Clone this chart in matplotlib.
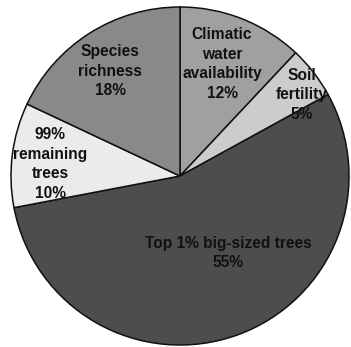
import matplotlib
matplotlib.use("Agg")
import matplotlib.pyplot as plt

# Relative importance of drivers (percent)
categories = ["Climatic\nwater\navailability", "Soil\nfertility",
              "Top 1% big-sized trees", "99%\nremaining\ntrees",
              "Species\nrichness"]
values = [12, 5, 55, 10, 18]
colors = ["#a0a0a0", "#cccccc", "#4d4d4d", "#ebebeb", "#898989"]

W, H = 351, 347
cx, cy, r = 180, 176, 169

fig = plt.figure(figsize=(W / 100, H / 100), dpi=100)
fig.patch.set_facecolor("white")
ax = fig.add_axes([(cx - r) / W, (H - cy - r) / H, 2 * r / W, 2 * r / H])

ax.pie(values, colors=colors, startangle=90, counterclock=False,
       radius=1.0,
       wedgeprops=dict(edgecolor="#111111", linewidth=1.1))
ax.set_xlim(-1.0, 1.0)
ax.set_ylim(-1.0, 1.0)
ax.set_aspect("auto")
ax.axis("off")

# label anchor points in pixel space of the figure
label_px = [(222, 64), (302, 95), (228, 253), (50, 164), (110, 71)]
for name, v, (px, py) in zip(categories, values, label_px):
    xd = (px - cx) / r
    yd = (cy - py) / r
    ax.text(xd, yd, f"{name}\n{v}%", ha="center", va="center",
            fontsize=11.2, fontweight="bold", color="#111111",
            family="Liberation Sans", linespacing=1.38)

fig.savefig("out.png", dpi=100, facecolor="white")
